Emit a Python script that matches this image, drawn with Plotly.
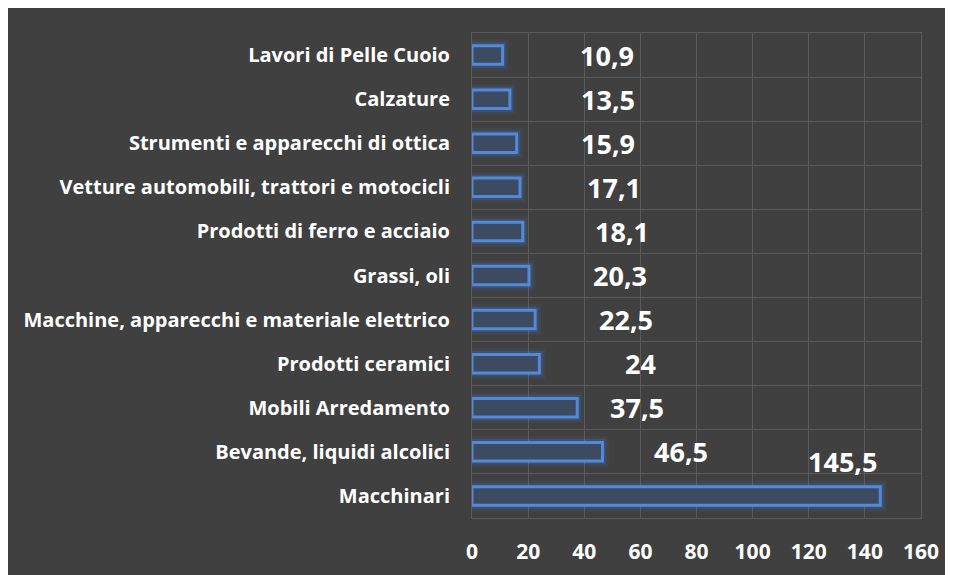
import plotly.graph_objects as go

# Categories listed top to bottom, as in the chart
categorie = [
    "Lavori di Pelle Cuoio",
    "Calzature",
    "Strumenti e apparecchi di ottica",
    "Vetture automobili, trattori e motocicli",
    "Prodotti di ferro e acciaio",
    "Grassi, oli",
    "Macchine, apparecchi e materiale elettrico",
    "Prodotti ceramici",
    "Mobili Arredamento",
    "Bevande, liquidi alcolici",
    "Macchinari",
]
valori = [10.9, 13.5, 15.9, 17.1, 18.1, 20.3, 22.5, 24, 37.5, 46.5, 145.5]
x_ticks = [0, 20, 40, 60, 80, 100, 120, 140, 160]

# label placement offsets (pixels from bar end), like the original Excel layout
label_dx = [104, 98, 91, 94, 99, 91, 91, 101, 60, 79, -38]
label_dy = [0, 0, 0, 0, 0, 0, 0, 0, 0, 0, 34]

BG = "#404040"
GRID = "#5a5a5a"
FONT = "Open Sans"

fig = go.Figure()

# soft glow behind the bars
for w, a in [(12, 0.10), (7, 0.18)]:
    fig.add_trace(
        go.Bar(
            x=valori,
            y=categorie,
            orientation="h",
            width=0.42,
            marker=dict(color="rgba(0,0,0,0)", line=dict(color=f"rgba(70,130,220,{a})", width=w)),
            hoverinfo="skip",
            showlegend=False,
        )
    )

# bars
fig.add_trace(
    go.Bar(
        x=valori,
        y=categorie,
        orientation="h",
        width=0.42,
        marker=dict(color="#3d4b62", line=dict(color="#5289d8", width=3)),
        showlegend=False,
    )
)

# value labels
for cat, v, dx, dy in zip(categorie, valori, label_dx, label_dy):
    fig.add_annotation(
        x=v,
        y=cat,
        text=f"{v:g}".replace(".", ","),
        showarrow=False,
        xanchor="center",
        yanchor="middle",
        xshift=dx,
        yshift=dy,
        font=dict(family=FONT, size=27, color="white", weight="bold"),
    )

# page body has an 8px margin, so the figure is sized to fit the window
fig.update_layout(
    width=945,
    height=567,
    margin=dict(l=464, r=32, t=25, b=57),
    paper_bgcolor=BG,
    plot_bgcolor=BG,
    barmode="overlay",
    font=dict(family=FONT, color="white"),
    xaxis=dict(
        range=[0, 160],
        tickvals=x_ticks,
        showgrid=True,
        gridcolor=GRID,
        gridwidth=1,
        zeroline=False,
        showline=True,
        linecolor=GRID,
        mirror=True,
        ticks="",
        ticklabelstandoff=15,
        automargin=False,
        tickfont=dict(family=FONT, size=21, color="white", weight="bold"),
        fixedrange=True,
    ),
    yaxis=dict(
        type="category",
        range=[10.5, -0.5],
        tickson="boundaries",
        showgrid=True,
        gridcolor=GRID,
        showline=True,
        linecolor=GRID,
        mirror=True,
        ticks="",
        ticklabelstandoff=17,
        automargin=False,
        tickfont=dict(family=FONT, size=20, color="white", weight="bold"),
        fixedrange=True,
    ),
)

fig.write_html("out.html")
